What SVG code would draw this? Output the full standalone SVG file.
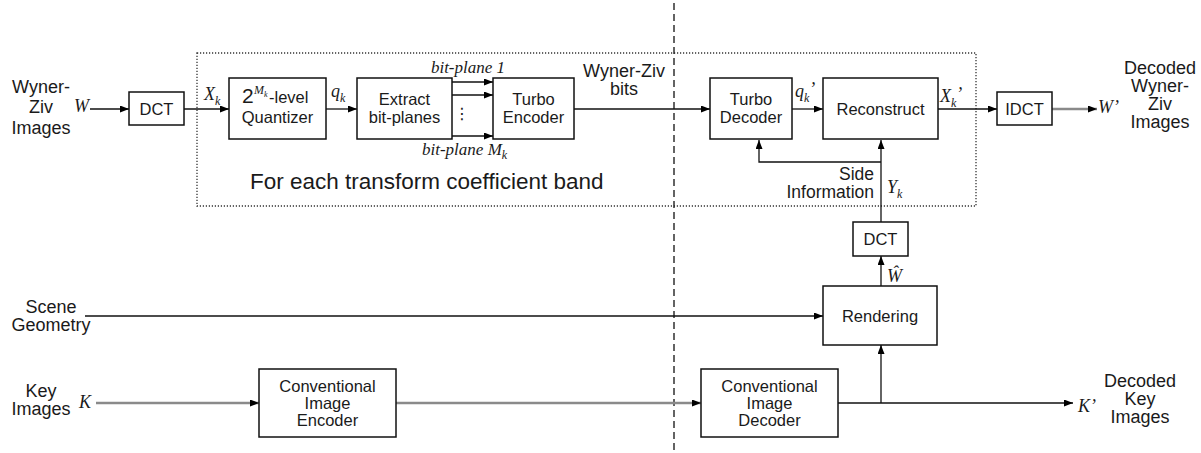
<svg xmlns="http://www.w3.org/2000/svg" width="1201" height="453" viewBox="0 0 1201 453">
<defs>
<marker id="arr" markerUnits="userSpaceOnUse" markerWidth="10" markerHeight="8" refX="9" refY="3.5" orient="auto">
<path d="M0,0 L9,3.5 L0,7 z" fill="#000"/>
</marker>
<style>
.box{fill:#fff;stroke:#111;stroke-width:1.5}
.t{font-family:"Liberation Sans",Arial,sans-serif;font-size:16.5px;text-anchor:middle;fill:#1a1a1a}
.lbl{font-family:"Liberation Sans",Arial,sans-serif;font-size:18px;text-anchor:middle;fill:#1a1a1a}
.m{font-family:"Liberation Serif","Times New Roman",serif;font-style:italic;font-size:18px;fill:#1a1a1a}
.ln{stroke:#111;stroke-width:1.3;fill:none}
.gl{stroke:#8a8a8a;stroke-width:2.6;fill:none}
</style>
</defs>
<rect width="1201" height="453" fill="#fff"/>

<g id="frames">
<rect x="197" y="53" width="779" height="153" fill="none" stroke="#333" stroke-width="1.3" stroke-dasharray="1.2 1.8"/>
<line x1="674" y1="3" x2="674" y2="453" stroke="#222" stroke-width="1.4" stroke-dasharray="7 4"/>
<text x="250" y="189" font-family="'Liberation Sans',Arial,sans-serif" font-size="22.5" fill="#1a1a1a">For each transform coefficient band</text>
</g>

<g id="connectors">
<line class="ln" x1="90" y1="109" x2="129" y2="109" marker-end="url(#arr)"/>
<line class="ln" x1="184" y1="109" x2="229" y2="109" marker-end="url(#arr)"/>
<line class="ln" x1="326" y1="109" x2="357" y2="109" marker-end="url(#arr)"/>
<line class="ln" x1="452" y1="82" x2="493" y2="82" marker-end="url(#arr)"/>
<line class="ln" x1="452" y1="95" x2="493" y2="95" marker-end="url(#arr)"/>
<line class="ln" x1="452" y1="136" x2="493" y2="136" marker-end="url(#arr)"/>
<line class="ln" x1="574" y1="109" x2="710" y2="109" marker-end="url(#arr)"/>
<line class="ln" x1="792" y1="109" x2="823" y2="109" marker-end="url(#arr)"/>
<line class="ln" x1="938" y1="109" x2="997" y2="109" marker-end="url(#arr)"/>
<line class="gl" x1="1052" y1="109" x2="1097" y2="109" marker-end="url(#arr)"/>
<path class="ln" d="M881,162 H759 V140" marker-end="url(#arr)"/>
<line class="ln" x1="881" y1="222" x2="881" y2="140" marker-end="url(#arr)"/>
<line class="ln" x1="881" y1="286" x2="881" y2="256" marker-end="url(#arr)"/>
<line class="ln" x1="85" y1="316" x2="823" y2="316" marker-end="url(#arr)"/>
<line class="gl" x1="96" y1="403" x2="259" y2="403" marker-end="url(#arr)"/>
<line class="gl" x1="396" y1="403" x2="701" y2="403" marker-end="url(#arr)"/>
<line class="ln" x1="838" y1="403" x2="1073" y2="403" marker-end="url(#arr)"/>
<line class="ln" x1="881" y1="403" x2="881" y2="345" marker-end="url(#arr)"/>
</g>

<g id="wz-input">
<text class="lbl" x="41" y="93">Wyner-</text>
<text class="lbl" x="41" y="113">Ziv</text>
<text class="lbl" x="41" y="134">Images</text>
<text class="m" x="74" y="112">W</text>
</g>

<g id="dct1">
<rect class="box" x="129" y="92" width="55" height="33"/>
<text class="t" x="156.5" y="114.5">DCT</text>
<text class="m" x="204" y="100">X<tspan font-size="12" dy="5">k</tspan></text>
</g>

<g id="quantizer">
<rect class="box" x="229" y="78" width="97" height="61"/>
<text x="242" y="103" font-family="'Liberation Sans',Arial,sans-serif" font-size="21" fill="#1a1a1a">2</text>
<text class="m" x="254" y="94" style="font-size:12px">M<tspan font-size="8" dy="3">k</tspan></text>
<text x="269" y="103" font-family="'Liberation Sans',Arial,sans-serif" font-size="16.5" fill="#1a1a1a">-level</text>
<text class="t" x="277.5" y="123">Quantizer</text>
<text class="m" x="331" y="97">q<tspan font-size="12" dy="5">k</tspan></text>
</g>

<g id="extract">
<rect class="box" x="357" y="78" width="95" height="61"/>
<text class="t" x="404.5" y="105">Extract</text>
<text class="t" x="404.5" y="123">bit-planes</text>
<text class="m" x="468" y="73" style="font-size:17px;text-anchor:middle">bit-plane 1</text>
<text x="462" y="119" font-family="'DejaVu Sans',sans-serif" font-size="16" text-anchor="middle" fill="#1a1a1a">⋮</text>
<text class="m" x="422" y="155" style="font-size:17px">bit-plane M<tspan font-size="12" dy="4">k</tspan></text>
</g>

<g id="turbo-encoder">
<rect class="box" x="493" y="78" width="81" height="61"/>
<text class="t" x="533.5" y="105">Turbo</text>
<text class="t" x="533.5" y="123">Encoder</text>
<text class="lbl" x="624" y="77">Wyner-Ziv</text>
<text class="lbl" x="624" y="95">bits</text>
</g>

<g id="turbo-decoder">
<rect class="box" x="710" y="78" width="82" height="61"/>
<text class="t" x="751" y="105">Turbo</text>
<text class="t" x="751" y="123">Decoder</text>
<text class="m" x="795" y="97">q<tspan font-size="12" dy="5">k</tspan><tspan dy="-7">’</tspan></text>
</g>

<g id="reconstruct">
<rect class="box" x="823" y="78" width="115" height="61"/>
<text class="t" x="880.5" y="115">Reconstruct</text>
<text class="m" x="940" y="102">X<tspan font-size="12" dy="5">k</tspan><tspan dy="-7">’</tspan></text>
</g>

<g id="idct">
<rect class="box" x="997" y="92" width="55" height="33"/>
<text class="t" x="1024.5" y="115">IDCT</text>
</g>

<g id="wz-output">
<text class="m" x="1098" y="113">W’</text>
<text class="lbl" x="1160" y="74">Decoded</text>
<text class="lbl" x="1160" y="92">Wyner-</text>
<text class="lbl" x="1160" y="110">Ziv</text>
<text class="lbl" x="1160" y="128">Images</text>
</g>

<g id="side-info">
<text class="lbl" x="874" y="180" style="font-size:17.5px;text-anchor:end">Side</text>
<text class="lbl" x="874" y="198" style="font-size:17.5px;text-anchor:end">Information</text>
<text class="m" x="887" y="193">Y<tspan font-size="12" dy="5">k</tspan></text>
</g>

<g id="dct2">
<rect class="box" x="853" y="222" width="55" height="34"/>
<text class="t" x="880.5" y="245">DCT</text>
<text class="m" x="887" y="282">Ŵ</text>
</g>

<g id="rendering">
<rect class="box" x="823" y="286" width="114" height="59"/>
<text class="t" x="880" y="322">Rendering</text>
</g>

<g id="scene-geometry">
<text class="lbl" x="51" y="313">Scene</text>
<text class="lbl" x="51" y="331">Geometry</text>
</g>

<g id="key-input">
<text class="lbl" x="41" y="397">Key</text>
<text class="lbl" x="41" y="415">Images</text>
<text class="m" x="79" y="408">K</text>
</g>

<g id="encoder">
<rect class="box" x="259" y="369" width="137" height="68"/>
<text class="t" x="327.5" y="392">Conventional</text>
<text class="t" x="327.5" y="409">Image</text>
<text class="t" x="327.5" y="426">Encoder</text>
</g>

<g id="decoder">
<rect class="box" x="701" y="369" width="137" height="68"/>
<text class="t" x="769.5" y="392">Conventional</text>
<text class="t" x="769.5" y="409">Image</text>
<text class="t" x="769.5" y="426">Decoder</text>
</g>

<g id="key-output">
<text class="m" x="1078" y="412">K’</text>
<text class="lbl" x="1140" y="387">Decoded</text>
<text class="lbl" x="1140" y="405">Key</text>
<text class="lbl" x="1140" y="423">Images</text>
</g>
</svg>
